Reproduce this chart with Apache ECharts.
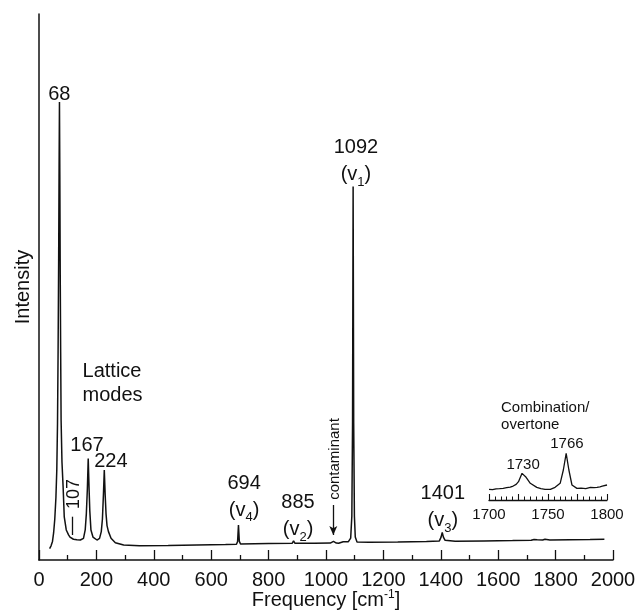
<!DOCTYPE html>
<html><head><meta charset="utf-8">
<script src="https://cdn.jsdelivr.net/npm/echarts@6/dist/echarts.min.js"></script>
<style>html,body{margin:0;padding:0;background:#fff}#c{width:639px;height:610px}</style>
</head><body><div id="c"></div>
<script>
// Main spectrum (frequency in cm-1, intensity in arbitrary units)
const mainFreq = [37,42,47,51,55,59,62,64.5,66.5,68.5,70,71.3,72.6,74,75.5,77,80,84,88,95,103,108,111,114,120,132,144,155,161,165,168.5,171.5,174.5,177,181,188,202,211,217,221,224.5,227.5,230.5,233.5,237,242,251,266,295,350,450,550,650,688,692,695,698,702,800,882,887,892,960,1015,1026,1036,1044,1060,1078,1086,1090,1092.5,1094.5,1096.5,1099,1102,1108,1150,1250,1350,1395,1401,1405,1409,1415,1450,1550,1650,1715,1725,1730,1736,1755,1763,1766,1769,1780,1850,1920,1970];
const mainIntensity = [2.1,2.6,3.4,5.0,7.5,11.5,16.5,25,38,55,72,83.9,70,52,38,25.6,18,13.4,7.9,5.5,4.6,4.2,4.5,4.0,3.8,3.7,3.66,3.97,5.5,8.5,13,18.6,13,9,5.5,4.2,3.66,3.97,5.2,7.5,12,16.5,12,8.5,6.3,5.2,3.97,3.17,2.75,2.6,2.65,2.75,2.85,2.9,3.4,6.4,3.4,2.95,3.0,3.05,3.5,3.05,3.05,3.1,3.4,3.1,3.06,3.35,3.35,4.0,8,25,68.4,25,8,4.2,3.3,3.25,3.3,3.38,3.5,4.2,5.07,4.2,3.6,3.45,3.5,3.55,3.6,3.75,3.95,3.7,3.65,3.8,4.15,3.8,3.65,3.7,3.75,3.8];
// Inset (1700-1800 cm-1, magnified)
const insetFreq = [1700,1703,1706,1709,1712,1715,1718,1720.5,1723,1725,1728,1731,1735,1740.5,1744,1747.5,1752,1756,1760.3,1763,1765.4,1767.7,1770.3,1774.5,1778,1782,1786,1789,1791.5,1794,1796,1800];
const insetIntensity = [1.78,1.72,1.85,1.89,1.95,2.06,2.15,2.33,2.6,3.06,4.44,3.89,2.78,2.11,1.9,1.78,1.78,2.11,2.78,5.0,7.78,5.0,2.5,1.94,1.98,1.9,2.11,2.05,2.11,2.2,2.3,2.5];

const FONT = '"Liberation Sans", Arial, Helvetica, sans-serif';
const INK = '#111';
const rich = {
  n: {fontSize: 20, lineHeight: 27, fontFamily: FONT, color: INK},
  s: {fontSize: 13, lineHeight: 12, verticalAlign: 'bottom', fontFamily: FONT, color: INK},
  m: {fontSize: 15, lineHeight: 17, fontFamily: FONT, color: INK}
};
function mp(coord, text, extra) {
  return {coord: coord, value: 0, symbol: 'circle', symbolSize: 0,
    label: Object.assign({show: true, position: 'inside', formatter: text, rich: rich,
      align: 'center', verticalAlign: 'middle'}, extra || {})};
}
const mainLabels = [
  mp([70.7, 85.3], '{n|68}'),
  mp([120.6, 12.1], '{n|107}', {rotate: 90, rich: {n: {fontSize: 18, fontFamily: FONT, color: INK}}}),
  mp([167.1, 21.06], '{n|167}'),
  mp([250.6, 18.0], '{n|224}'),
  mp([151.8, 32.4], '{n|Lattice}\n{n|modes}', {align: 'left', rich: {n: {fontSize: 20, lineHeight: 24, fontFamily: FONT, color: INK}}}),
  mp([714.6, 11.63], '{n|694}\n{n|(v}{s|4}{n|)}'),
  mp([902.5, 7.97], '{n|885}\n{n|(v}{s|2}{n|)}'),
  mp([1104.4, 72.99], '{n|1092}\n{n|(v}{s|1}{n|)}'),
  mp([1407.2, 9.62], '{n|1401}\n{n|(v}{s|3}{n|)}'),
  mp([1031.3, 18.5], '{m|contaminant}', {rotate: 90})
];
const insetLabels = [
  mp([1710.2, 13.9], '{m|Combination/}\n{m|overtone}', {align: 'left'}),
  mp([1728.9, 5.83], '{m|1730}'),
  mp([1766.0, 9.33], '{m|1766}')
];

const chart = echarts.init(document.getElementById('c'), null, {renderer: 'canvas'});
chart.setOption({
  animation: false,
  backgroundColor: '#fff',
  textStyle: {fontFamily: FONT, color: INK},
  grid: [
    {left: 39, right: 26, top: 14, bottom: 50, outerBoundsMode: 'none', containLabel: false},
    {left: 489, right: 32, top: 400, bottom: 110, outerBoundsMode: 'none', containLabel: false}
  ],
  xAxis: [{
    gridIndex: 0, type: 'value', min: 0, max: 2000, interval: 200,
    axisLine: {lineStyle: {color: INK, width: 1.5}},
    axisTick: {inside: true, length: 10, lineStyle: {color: INK, width: 1.3}},
    minorTick: {show: true, splitNumber: 2, length: 5, lineStyle: {color: INK, width: 1.3}},
    splitLine: {show: false}, minorSplitLine: {show: false},
    axisLabel: {fontSize: 20, fontFamily: FONT, color: INK, margin: 10, formatter: v => String(v)},
    name: '{a|Frequency [cm}{sup|-1}{a|]}', nameLocation: 'middle', nameGap: 29,
    nameMoveOverlap: false,
    nameTextStyle: {rich: {
      a: {fontSize: 20, lineHeight: 22, fontFamily: FONT, color: INK},
      sup: {fontSize: 12, lineHeight: 22, verticalAlign: 'top', fontFamily: FONT, color: INK}
    }}
  }, {
    gridIndex: 1, type: 'value', min: 1700, max: 1800, interval: 25,
    axisLine: {lineStyle: {color: INK, width: 1.3}},
    axisTick: {inside: true, length: 6, lineStyle: {color: INK, width: 1.1}},
    minorTick: {show: true, splitNumber: 5, length: 3.5, lineStyle: {color: INK, width: 1}},
    splitLine: {show: false}, minorSplitLine: {show: false},
    axisLabel: {fontSize: 15, fontFamily: FONT, color: INK, margin: 7,
      formatter: v => (v % 50 === 0 ? String(v) : '')}
  }],
  yAxis: [{
    gridIndex: 0, type: 'value', min: 0, max: 100,
    axisLine: {show: true, lineStyle: {color: INK, width: 1.5}},
    axisTick: {show: false}, axisLabel: {show: false}, splitLine: {show: false},
    name: 'Intensity', nameLocation: 'middle', nameGap: 6,
    nameTextStyle: {fontSize: 20, fontFamily: FONT, color: INK}
  }, {
    gridIndex: 1, type: 'value', min: 0, max: 100 / 6, show: false
  }],
  series: [{
    type: 'line', xAxisIndex: 0, yAxisIndex: 0, showSymbol: false, symbol: 'none',
    data: mainFreq.map((f, i) => [f, mainIntensity[i]]),
    lineStyle: {color: INK, width: 1.5},
    markPoint: {data: mainLabels, silent: true},
    markLine: {
      silent: true, animation: false,
      label: {show: false},
      lineStyle: {color: INK, width: 1.3, type: 'solid'},
      data: [
        [{coord: [114.9, 7.93], symbol: 'none'}, {coord: [114.9, 4.58], symbol: 'none'}],
        [{coord: [1025.4, 10.07], symbol: 'none'}, {coord: [1025.4, 4.58], symbol: 'arrow', symbolSize: [6, 9]}]
      ]
    }
  }, {
    type: 'line', xAxisIndex: 1, yAxisIndex: 1, showSymbol: false, symbol: 'none',
    data: insetFreq.map((f, i) => [f, insetIntensity[i]]),
    lineStyle: {color: INK, width: 1.3},
    markPoint: {data: insetLabels, silent: true}
  }]
});
</script></body></html>
